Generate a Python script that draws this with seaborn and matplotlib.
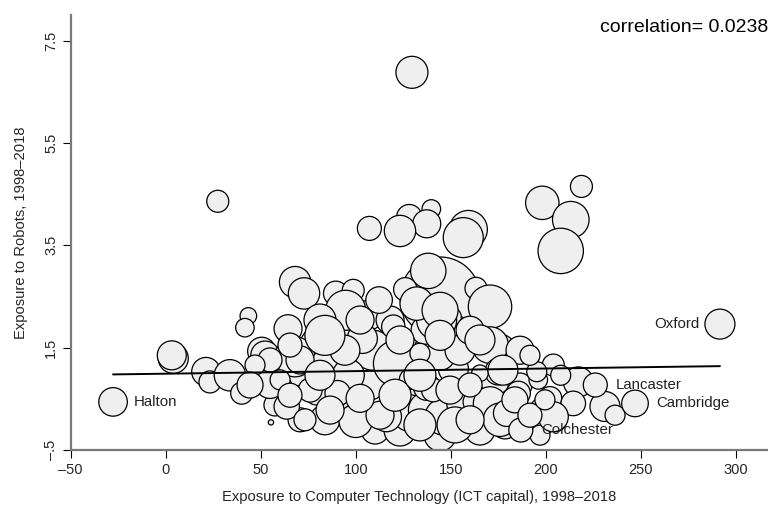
import matplotlib
matplotlib.use("Agg")
import matplotlib.pyplot as plt
import seaborn as sns
import pandas as pd

# Local areas: ICT capital exposure, robot exposure and employment weight
ict = [144.4,
       80.2, 94.4, 106.5, 118.1, 125.9, 139.1, 152.3, 168.0, 175.9,
       107.5, 94.4, 83.8, 110.2, 123.3, 144.4, 165.4, 178.6, 154.9, 131.2, 144.4, 173.3,
       186.5, 204.9, 197.0, 75.9, 65.4, 52.3, 57.5, 70.7,
       27.4, 129.6, 218.8, 198.2, 213.2, 207.9, 107.2, 128.2, 139.8, 137.4, 123.3, 159.3, 156.6,
       138.2, 163.3, 170.7, 68.1, 72.8, 89.5, 98.7, 94.7, 112.3, 126.1, 43.5, 41.7, 64.4, 86.8,
       136.5, 150.7, 142.6, 170.7, 109.0, 50.5, 119.8, 103.5, 132.1, 144.4,
       4.0, 3.2, -27.7, 21.2, 23.3, 33.8, 40.0, 52.3, 55.4, 63.7, 62.8,
       54.9, 70.2, 68.0, 83.8, 79.1, 96.1, 90.5, 100.0, 121.6, 129.1, 131.7, 128.6, 116.2,
       137.4, 146.1, 154.9, 162.3, 170.7, 175.9, 175.0, 165.4, 151.4, 144.4, 133.8, 137.4, 140.8,
       186.5, 177.5, 196.1, 204.0, 217.2, 195.3, 185.6, 179.5, 197.9, 208.4, 202.3, 214.5,
       231.2, 236.5, 247.0, 204.0, 291.7, 226.1, 186.9,
       152.3, 133.8, 160.2, 112.8, 120.7, 102.3, 86.5, 76.0, 149.6, 160.2, 183.8, 191.7, 199.6,
       70.7, 81.2, 94.3, 133.8, 154.9, 144.4, 123.3, 160.2, 165.4, 102.3, 81.2, 65.4, 54.9,
       47.0, 60.2, 44.4, 65.4, 73.3, 83.8, 191.7, 207.9]
robots = [2.49,
          1.55, 1.84, 2.13, 2.04, 1.55, 1.45, 1.84, 2.04, 1.45,
          0.77, 0.57, 0.09, -0.11, -0.11, -0.21, -0.11, -0.01, 0.28, 0.48, 0.57, 0.87,
          0.77, 0.09, -0.21, 0.87, 1.06, 0.87, 0.38, 0.09,
          4.36, 6.88, 4.65, 4.33, 4.00, 3.39, 3.83, 4.05, 4.21, 3.92, 3.78, 3.81, 3.65,
          3.00, 2.66, 2.30, 2.78, 2.56, 2.56, 2.62, 2.23, 2.43, 2.64, 2.12, 1.89, 1.87, 1.81,
          1.84, 2.10, 2.04, 1.55, 1.45, 1.43, 1.91, 1.68, 2.36, 2.23,
          1.29, 1.35, 0.44, 1.03, 0.83, 0.96, 0.61, 1.35, 0.04, 0.35, 0.93,
          0.80, 0.96, 1.32, 1.22, 0.59, 0.96, 0.61, 0.07, 1.19, 0.87, 0.44, 0.22, 0.15,
          0.28, 0.15, 0.41, 0.44, 0.41, 0.09, 1.03, 1.00, 1.09, 1.35, 1.39, 0.73, 0.67,
          1.45, 1.06, 0.87, 1.16, 0.83, 1.03, 0.61, 0.22, 0.31, 0.26, 0.51, 0.41,
          0.35, 0.18, 0.41, 0.15, 1.96, 0.77, -0.11,
          -0.01, -0.01, 0.09, 0.18, 0.57, 0.51, 0.28, 0.67, 0.67, 0.77, 0.48, 0.18, 0.48,
          1.26, 0.96, 1.45, 0.96, 1.45, 1.74, 1.65, 1.84, 1.65, 2.04, 2.04, 1.55, 1.26,
          1.16, 0.87, 0.77, 0.57, 0.09, 1.74, 1.35, 0.96]
weight = [1600,
          324, 225, 225, 196, 196, 256, 225, 196, 256,
          225, 256, 225, 196, 256, 256, 225, 196, 256, 196, 196, 225,
          144, 144, 100, 169, 144, 144, 121, 144,
          121, 256, 121, 279, 335, 515, 144, 161, 86, 196, 246, 361, 400,
          313, 121, 471, 246, 246, 151, 121, 400, 177, 137, 69, 86, 196, 151,
          196, 86, 400, 335, 400, 196, 137, 225, 279, 324,
          225, 210, 204, 204, 121, 246, 121, 204, 7, 161, 144,
          225, 114, 400, 161, 114, 256, 161, 279, 543, 137, 177, 335, 225,
          335, 335, 177, 121, 279, 279, 177, 69, 225, 225, 100, 177, 137,
          196, 225, 86, 121, 225, 100, 144, 177, 121, 53, 137, 151,
          225, 100, 177, 225, 225, 144, 144,
          324, 256, 196, 196, 256, 196, 196, 144, 196, 144, 169, 144, 100,
          196, 225, 225, 256, 225, 225, 196, 196, 225, 196, 256, 144, 144,
          100, 100, 169, 144, 121, 400, 100, 100]

# Named areas and where their labels sit
label_names = ["Halton", "Oxford", "Lancaster", "Cambridge", "Colchester"]
label_x = [-27.7, 291.7, 226.1, 247.0, 186.9]
label_y = [0.44, 1.96, 0.77, 0.41, -0.11]
label_side = ["right", "left", "right", "right", "right"]

# Weighted linear fit and correlation
fit_intercept = 0.991
fit_slope = 0.000506
correlation_text = "correlation= 0.0238"

xticks = [-50, 0, 50, 100, 150, 200, 250, 300]
xticklabels = ["\u201350", "0", "50", "100", "150", "200", "250", "300"]
yticks = [-0.5, 1.5, 3.5, 5.5, 7.5]
yticklabels = ["\u2013.5", "1.5", "3.5", "5.5", "7.5"]

sns.set_style("white")
plt.rcParams["font.family"] = ["Liberation Sans", "DejaVu Sans"]

df = pd.DataFrame({"ict": ict, "robots": robots, "weight": weight})

fig = plt.figure(figsize=(7.68, 5.07), dpi=100)
W, H = 768, 507
ax = fig.add_axes([70.7 / W, 1 - 450 / H, (W - 70.7) / W, (450 - 15) / H])

wmax = max(weight)
sns.scatterplot(data=df, x="ict", y="robots", size="weight",
                sizes=(0, 2.0736 * wmax), size_norm=(0, wmax),
                color="#efefef", edgecolor="black", linewidth=0.9,
                legend=False, ax=ax, zorder=2)

x0, x1 = min(ict), max(ict)
ax.plot([x0, x1], [fit_intercept + fit_slope * x0, fit_intercept + fit_slope * x1],
        color="black", lw=1.4, zorder=3)

for name, lx, ly, side in zip(label_names, label_x, label_y, label_side):
    off = 15 if side == "right" else -15
    ax.annotate(name, (lx, ly), xytext=(off, 0), textcoords="offset points",
                ha="left" if side == "right" else "right", va="center",
                fontsize=10.8, color="#222222", zorder=4)

ax.text(1.0, 0.972, correlation_text, transform=ax.transAxes, ha="right", va="center",
        fontsize=14, color="black")

ax.set_xlim(-50, 317)
ax.set_ylim(-0.5, 8.0)
ax.set_xticks(xticks)
ax.set_xticklabels(xticklabels)
ax.set_yticks(yticks)
ax.set_yticklabels(yticklabels, rotation=90, va="center")
ax.tick_params(axis="both", direction="out", length=6, width=0.8, color="black",
               labelsize=10.5, pad=3, left=True, bottom=True)
for s in ["top", "right"]:
    ax.spines[s].set_visible(False)
for s in ["left", "bottom"]:
    ax.spines[s].set_color("#7a7a7a")
    ax.spines[s].set_linewidth(1.6)

ax.set_xlabel("Exposure to Computer Technology (ICT capital), 1998\u20132018",
              fontsize=10.6, labelpad=10)
ax.set_ylabel("Exposure to Robots, 1998\u20132018", fontsize=10.6, labelpad=12)

fig.savefig("out.png", dpi=100)
